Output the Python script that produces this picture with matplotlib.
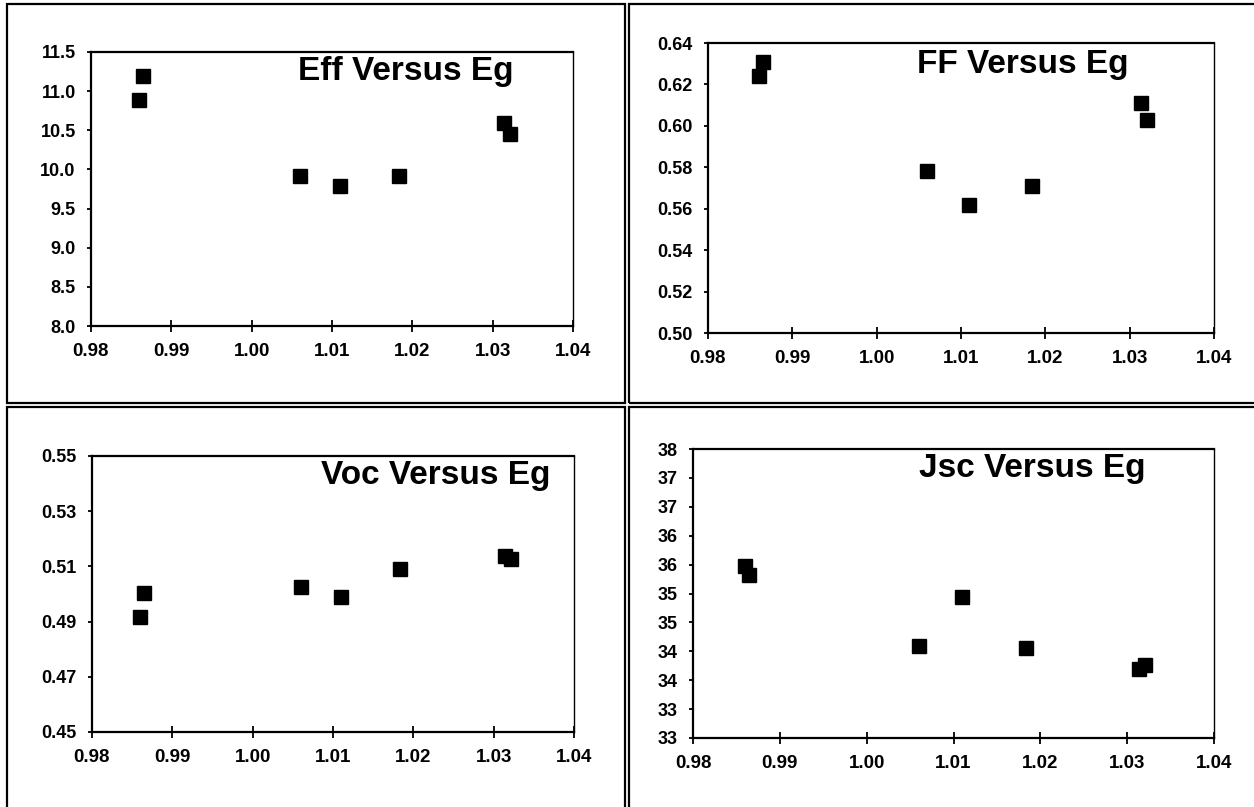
import matplotlib
matplotlib.use("Agg")
import matplotlib.pyplot as plt
from matplotlib.patches import Rectangle
import numpy as np

# band gap of each cell (eV) and the measured parameters
eg = [0.9860, 0.9865, 1.0060, 1.0110, 1.0184, 1.0314, 1.0321]
eff = [10.89, 11.19, 9.91, 9.79, 9.92, 10.59, 10.45]
ff = [0.624, 0.631, 0.578, 0.562, 0.571, 0.611, 0.603]
voc = [0.4915, 0.5004, 0.5025, 0.4989, 0.5089, 0.5136, 0.5126]
jsc = [35.98, 35.82, 34.59, 35.44, 34.56, 34.19, 34.26]

x_ticks = [0.98, 0.99, 1.00, 1.01, 1.02, 1.03, 1.04]
x_labels = ["0.98", "0.99", "1.00", "1.01", "1.02", "1.03", "1.04"]

eff_ticks = [8.0, 8.5, 9.0, 9.5, 10.0, 10.5, 11.0, 11.5]
eff_labels = ["8.0", "8.5", "9.0", "9.5", "10.0", "10.5", "11.0", "11.5"]
ff_ticks = [0.50, 0.52, 0.54, 0.56, 0.58, 0.60, 0.62, 0.64]
ff_labels = ["0.50", "0.52", "0.54", "0.56", "0.58", "0.60", "0.62", "0.64"]
voc_ticks = [0.45, 0.47, 0.49, 0.51, 0.53, 0.55]
voc_labels = ["0.45", "0.47", "0.49", "0.51", "0.53", "0.55"]
jsc_ticks = [33.0, 33.5, 34.0, 34.5, 35.0, 35.5, 36.0, 36.5, 37.0, 37.5, 38.0]
jsc_labels = ["33", "33", "34", "34", "35", "35", "36", "36", "37", "37", "38"]

titles = ["Eff Versus Eg", "FF Versus Eg", "Voc Versus Eg", "Jsc Versus Eg"]

W, H = 1254, 807
plt.rcParams["font.family"] = ["Liberation Sans", "DejaVu Sans"]
fig = plt.figure(figsize=(W / 100, H / 100), dpi=100)


def px_rect(x0, y0, x1, y1):
    # pixel box (top-left origin) -> figure fraction [left, bottom, w, h]
    return [x0 / W, (H - y1) / H, (x1 - x0) / W, (y1 - y0) / H]


# outer frames around each panel
for (x0, y0, x1, y1) in [(7, 4, 625, 403), (629, 4, 1256, 403),
                         (7, 407, 625, 810), (629, 407, 1256, 810)]:
    l, b, w, h = px_rect(x0, y0, x1, y1)
    fig.add_artist(Rectangle((l, b), w, h, transform=fig.transFigure,
                             fill=False, lw=1.6, ec="black"))

panels = [
    (px_rect(91, 52, 573, 326), eff, eff_ticks, eff_labels, (0.654, 0.898)),
    (px_rect(708, 43, 1214, 333), ff, ff_ticks, ff_labels, (0.623, 0.897)),
    (px_rect(92, 456, 574, 732), voc, voc_ticks, voc_labels, (0.714, 0.899)),
    (px_rect(693, 449, 1214, 738), jsc, jsc_ticks, jsc_labels, (0.651, 0.903)),
]

for (rect, vals, yt, yl, tpos), title in zip(panels, titles):
    ax = fig.add_axes(rect)
    ax.plot(eg, vals, "s", color="black", ms=10.5, ls="none")
    ax.set_xlim(x_ticks[0], x_ticks[-1])
    ax.set_ylim(yt[0], yt[-1])
    ax.set_xticks(x_ticks)
    ax.set_xticklabels(x_labels)
    ax.set_yticks(yt)
    ax.set_yticklabels(yl)
    ax.tick_params(axis="x", direction="inout", length=9, width=1.3,
                   pad=8, labelsize=13.5)
    ax.tick_params(axis="y", direction="out", length=3, width=1.3,
                   pad=8, labelsize=13)
    for lab in ax.get_xticklabels() + ax.get_yticklabels():
        lab.set_fontweight("bold")
    for side in ["left", "bottom", "top"]:
        ax.spines[side].set_linewidth(1.6)
    ax.spines["right"].set_linewidth(1.0)
    ax.text(tpos[0], tpos[1], title, transform=ax.transAxes,
            ha="center", va="baseline", fontsize=24, fontweight="bold")

fig.savefig("out.png", dpi=100)
